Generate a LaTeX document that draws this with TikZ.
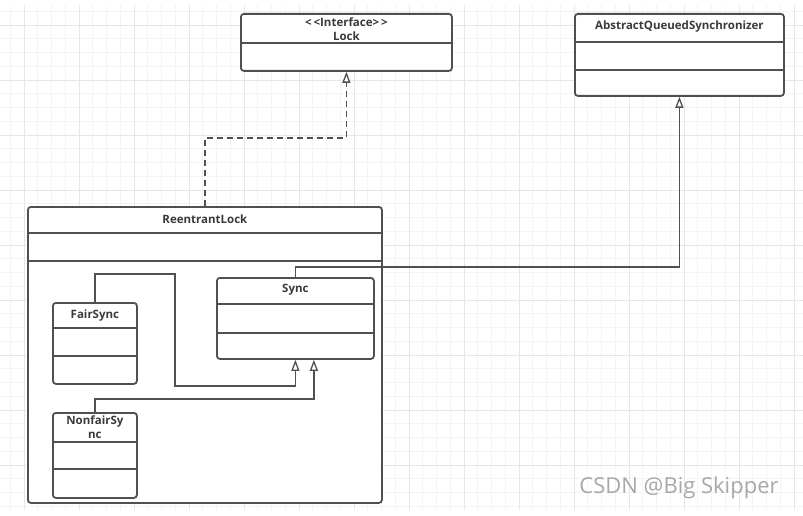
\documentclass[tikz,border=0pt]{standalone}
\usepackage{fontspec}
\setmainfont{Open Sans}
\usetikzlibrary{arrows.meta}
\definecolor{minorgrid}{HTML}{F4F4F4}
\definecolor{majorgrid}{HTML}{E6E6E6}
\definecolor{linec}{HTML}{505050}
\definecolor{textc}{HTML}{3A3A3A}
\definecolor{wmc}{HTML}{A8A8A8}
\begin{document}
\begin{tikzpicture}[x=1pt,y=-1pt,
  box/.style={draw=linec, line width=1.8pt, rounded corners=3pt, fill=white, inner sep=0pt, anchor=north west},
  sepline/.style={draw=linec, line width=1.8pt},
  title/.style={font=\fontsize{11.5}{13}\selectfont\bfseries, text=textc, inner sep=0pt},
  conn/.style={draw=linec, line width=1.5pt},
  inherit/.style={conn, -{Triangle[open, length=11pt, width=8pt, line width=1.3pt, fill=white]}},
  realize/.style={inherit, dash pattern=on 6pt off 4pt},
]
\useasboundingbox (0,0) rectangle (803,516);
\fill[white] (0,0) rectangle (803,516);
% grid
\foreach \i in {0,...,58} {
  \draw[minorgrid, line width=0.8pt] (10.25+13.75*\i,5) -- (10.25+13.75*\i,510);
}
\foreach \j in {0,...,36} {
  \draw[minorgrid, line width=0.8pt] (0,11.25+13.75*\j) -- (803,11.25+13.75*\j);
}
\foreach \i in {0,...,14} {
  \draw[majorgrid, line width=0.9pt] (24+55*\i,5) -- (24+55*\i,510);
}
\foreach \j in {0,...,8} {
  \draw[majorgrid, line width=0.9pt] (0,25+55*\j) -- (803,25+55*\j);
}

% Lock interface
\node[box, minimum width=211pt, minimum height=57pt] (lock) at (240,13) {};
\draw[sepline] (lock.west |- 0,43) -- (lock.east |- 0,43);
\node[title] (lockT1) at (lock.north |- 0,22) {{<}\,{<}Interface{>}\,{>}};
\node[title] (lockT2) at (lock.north |- 0,36) {Lock};

% AQS
\node[box, minimum width=209pt, minimum height=82pt] (aqs) at (574,13) {};
\draw[sepline] (aqs.west |- 0,42) -- (aqs.east |- 0,42);
\draw[sepline] (aqs.west |- 0,70) -- (aqs.east |- 0,70);
\node[title] (aqsT) at (aqs.north |- 0,27) {AbstractQueuedSynchronizer};

% ReentrantLock
\node[box, minimum width=354pt, minimum height=296pt] (rl) at (27,206) {};
\draw[sepline] (rl.west |- 0,233) -- (rl.east |- 0,233);
\draw[sepline] (rl.west |- 0,261) -- (rl.east |- 0,261);
\node[title] (rlT) at (rl.north |- 0,219) {ReentrantLock};

% Sync
\node[box, minimum width=157pt, minimum height=81pt] (sync) at (216,277) {};
\draw[sepline] (sync.west |- 0,304) -- (sync.east |- 0,304);
\draw[sepline] (sync.west |- 0,333) -- (sync.east |- 0,333);
\node[title] (syncT) at (sync.north |- 0,290) {Sync};

% FairSync
\node[box, minimum width=84pt, minimum height=81pt] (fair) at (52,302) {};
\draw[sepline] (fair.west |- 0,328) -- (fair.east |- 0,328);
\draw[sepline] (fair.west |- 0,356) -- (fair.east |- 0,356);
\node[title] (fairT) at (fair.north |- 0,316) {FairSync};

% NonfairSync
\node[box, minimum width=84pt, minimum height=85pt] (nonfair) at (52,412) {};
\draw[sepline] (nonfair.west |- 0,442) -- (nonfair.east |- 0,442);
\draw[sepline] (nonfair.west |- 0,469) -- (nonfair.east |- 0,469);
\node[title] (nonfairT1) at (nonfair.north |- 0,421) {NonfairSy};
\node[title] (nonfairT2) at (nonfair.north |- 0,435) {nc};

% connectors
\draw[realize] (rl.north) -- ++(0,-68) -| (lock.south);
\draw[inherit] (sync.north) -- ++(0,-10) -| (aqs.south);
\draw[inherit] (fair.north) |- (175,274) -- (175,386) -| (sync.south);
\coordinate (s2) at ([xshift=18.5pt]sync.south);
\draw[inherit] (nonfair.north) |- (s2 |- 0,399) -- (s2);

% watermark
\node[font=\fontsize{22}{26}\selectfont, text=wmc, inner sep=0pt] (wm) at (679,488) {CSDN @Big Skipper};
\end{tikzpicture}
\end{document}
